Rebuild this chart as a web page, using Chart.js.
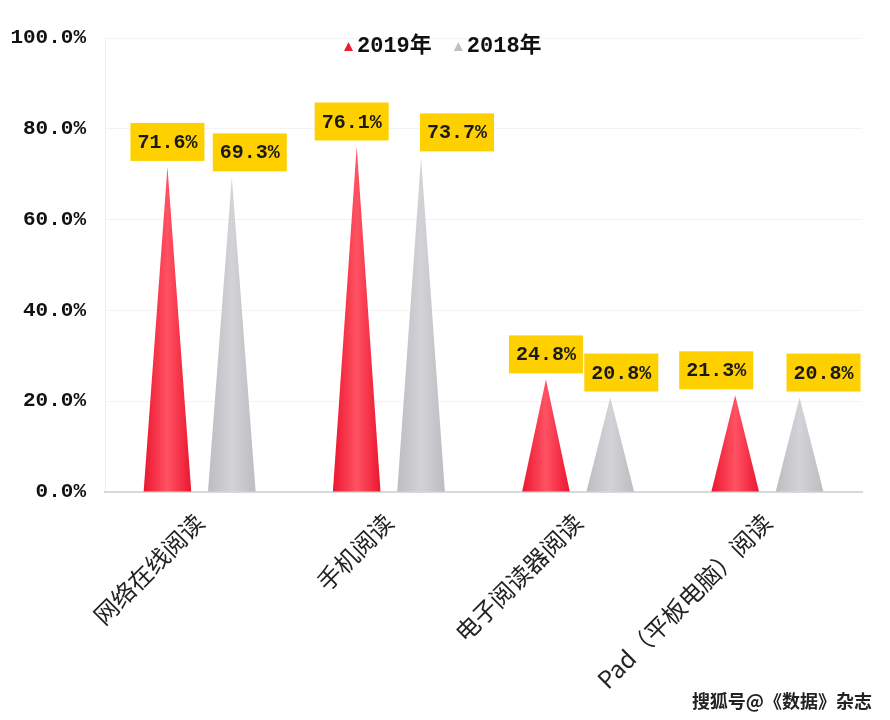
<!DOCTYPE html>
<html>
<head>
<meta charset="utf-8">
<script src="https://cdn.jsdelivr.net/npm/chart.js@4.4.1/dist/chart.umd.min.js"></script>
<style>
  html, body { margin: 0; padding: 0; background: #fff; }
  #wrap { width: 890px; height: 720px; position: relative; }
</style>
</head>
<body>
<div id="wrap"><canvas id="chart"></canvas></div>
<script>
const categories = ['网络在线阅读', '手机阅读', '电子阅读器阅读', 'Pad（平板电脑）阅读'];
const values2019 = [71.6, 76.1, 24.8, 21.3];
const values2018 = [69.3, 73.7, 20.8, 20.8];
const seriesNames = ['2019年', '2018年'];
const yTickValues = [0, 20, 40, 60, 80, 100];

const monoFont = '"Liberation Mono", "Noto Sans CJK SC", monospace';

// draw each bar as a cone-like triangle instead of a rectangle
const trianglePlugin = {
    id: 'triangles',
    beforeDatasetDraw() { return false; },
    afterDatasetsDraw(chart, args, opts) {
        const ctx = chart.ctx;
        chart.data.datasets.forEach((ds, di) => {
            const meta = chart.getDatasetMeta(di);
            const stops = opts.gradients[di];
            meta.data.forEach(bar => {
                const hw = bar.width * opts.baseRatio / 2;
                const g = ctx.createLinearGradient(bar.x - hw, 0, bar.x + hw, 0);
                g.addColorStop(0, stops[0]);
                g.addColorStop(0.5, stops[1]);
                g.addColorStop(1, stops[2]);
                ctx.save();
                ctx.beginPath();
                ctx.moveTo(bar.x - hw, bar.base);
                ctx.lineTo(bar.x, bar.y);
                ctx.lineTo(bar.x + hw, bar.base);
                ctx.closePath();
                ctx.fillStyle = g;
                ctx.fill();
                ctx.restore();
            });
        });
        // value labels in yellow boxes
        chart.data.datasets.forEach((ds, di) => {
            const meta = chart.getDatasetMeta(di);
            meta.data.forEach((bar, i) => {
                const text = ds.data[i].toFixed(1) + '%';
                ctx.save();
                ctx.font = 'bold 20px ' + monoFont;
                const tw = ctx.measureText(text).width;
                const bw = tw + 14, bh = 38;
                const cx = bar.x + opts.labelShift[di][i];
                const bottom = bar.y - opts.labelGap;
                ctx.fillStyle = '#ffd000';
                ctx.fillRect(cx - bw / 2, bottom - bh, bw, bh);
                ctx.fillStyle = '#1a1a1a';
                ctx.textAlign = 'center';
                ctx.textBaseline = 'middle';
                ctx.fillText(text, cx, bottom - bh / 2 + 1);
                ctx.restore();
            });
        });
    },
    afterDraw(chart, args, opts) {
        const ctx = chart.ctx;
        // legend inside the plot area, near the top
        ctx.save();
        ctx.font = 'bold 22px ' + monoFont;
        ctx.textBaseline = 'middle';
        const gap = 22, mark = 13;
        let x = opts.legendX;
        const y = opts.legendY;
        chart.data.datasets.forEach(ds => {
            const w = ctx.measureText(ds.label).width;
            ctx.fillStyle = ds.backgroundColor;
            ctx.beginPath();
            ctx.moveTo(x, y + 5);
            ctx.lineTo(x + 4.5, y - 4);
            ctx.lineTo(x + 9, y + 5);
            ctx.closePath();
            ctx.fill();
            ctx.fillStyle = '#111';
            ctx.fillText(ds.label, x + mark, y);
            x += mark + w + gap;
        });
        ctx.restore();

        ctx.save();
        ctx.font = 'bold 18px "Noto Sans CJK SC"';
        ctx.textAlign = 'right';
        ctx.textBaseline = 'middle';
        ctx.lineWidth = 3;
        ctx.strokeStyle = '#ffffff';
        ctx.strokeText('搜狐号@《数据》杂志', 872, 701);
        ctx.fillStyle = '#222';
        ctx.fillText('搜狐号@《数据》杂志', 872, 701);
        ctx.restore();
    }
};

new Chart(document.getElementById('chart'), {
    type: 'bar',
    data: {
        labels: categories,
        datasets: [
            { label: seriesNames[0], data: values2019, backgroundColor: '#e8202e' },
            { label: seriesNames[1], data: values2018, backgroundColor: '#c0c0c4' }
        ]
    },
    plugins: [trianglePlugin],
    options: {
        responsive: true,
        maintainAspectRatio: false,
        animation: false,
        layout: { padding: { top: 38, right: 28, left: 0, bottom: 0 } },
        datasets: { bar: { categoryPercentage: 0.68, barPercentage: 1.0 } },
        plugins: {
            tooltip: { enabled: false },
            legend: { display: false },
            triangles: {
                baseRatio: 0.74,
                labelGap: 6,
                legendX: 344,
                legendY: 46,
                labelShift: [[0, -5, 0, -19], [18, 36, 11, 24]],
                gradients: [
                    ['#ec1630', '#ff5263', '#ec1630'],
                    ['#bcbcc1', '#d3d3d7', '#bcbcc1']
                ]
            }
        },
        scales: {
            y: {
                min: 0,
                max: 100,
                afterFit(scale) { scale.width = 105; },
                afterBuildTicks(scale) { scale.ticks = yTickValues.map(v => ({ value: v })); },
                grid: { color: '#f3f3f3', drawTicks: false },
                border: { color: '#eeeeee' },
                ticks: {
                    padding: 19,
                    color: '#111',
                    font: { family: monoFont, size: 21, weight: 'bold' },
                    callback: v => v.toFixed(1) + '%'
                }
            },
            x: {
                afterFit(scale) { scale.height = 228; },
                grid: { display: false },
                border: { color: '#d9d9d9', width: 2 },
                ticks: {
                    minRotation: 45,
                    maxRotation: 45,
                    padding: 8,
                    color: '#222',
                    font: { family: '"Noto Sans CJK SC"', size: 24 }
                }
            }
        }
    }
});
</script>
</body>
</html>
